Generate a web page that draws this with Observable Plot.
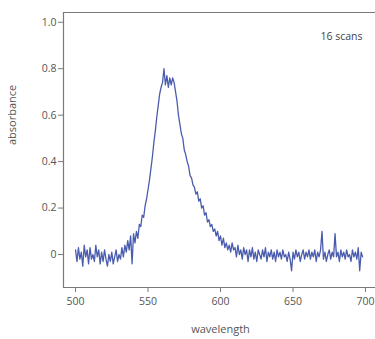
<!DOCTYPE html>
<html>
<head>
<meta charset="utf-8">
<script src="https://cdn.jsdelivr.net/npm/d3@7"></script>
<script src="https://cdn.jsdelivr.net/npm/@observablehq/plot@0.6"></script>
<style>
  html, body { margin: 0; padding: 0; background: #fff; }
  #chart { width: 375px; height: 339px; overflow: hidden; }
</style>
</head>
<body>
<div id="chart"></div>
<script>
const wavelengthStart = 500;
const absorbance = [
  0.02, -0.03, 0.03, -0.02, 0.01, -0.05, 0.04, -0.01, 0.02, -0.04,
  0.03, -0.02, 0.00, -0.03, 0.04, -0.01, 0.02, -0.04, 0.01, -0.03,
  0.02, -0.02, -0.05, 0.00, -0.03, 0.01, -0.04, -0.01, 0.02, -0.03,
  0.00, -0.02, 0.03, -0.01, 0.04, 0.01, 0.06, 0.02, 0.08, -0.04,
  0.09, 0.05, 0.10, 0.07, 0.13, 0.12, 0.17, 0.16, 0.21, 0.24,
  0.28, 0.32, 0.37, 0.42, 0.48, 0.53, 0.59, 0.64, 0.69, 0.72,
  0.74, 0.80, 0.73, 0.77, 0.72, 0.76, 0.73, 0.76, 0.74, 0.70,
  0.66, 0.60, 0.56, 0.52, 0.50, 0.45, 0.43, 0.40, 0.38, 0.34,
  0.33, 0.30, 0.29, 0.26, 0.27, 0.23, 0.24, 0.20, 0.21, 0.17,
  0.18, 0.14, 0.15, 0.12, 0.13, 0.10, 0.11, 0.08, 0.10, 0.06,
  0.08, 0.04, 0.07, 0.03, 0.05, 0.02, 0.04, 0.01, 0.05, 0.02,
  0.03, -0.01, 0.04, 0.00, 0.02, -0.02, 0.03, 0.00, 0.02, -0.03,
  0.02, -0.01, 0.03, -0.02, 0.01, -0.03, 0.02, 0.00, -0.02, 0.02,
  -0.01, 0.03, -0.03, 0.01, -0.01, 0.02, -0.02, 0.01, -0.03, 0.02,
  -0.01, 0.01, -0.02, 0.02, -0.01, 0.00, -0.03, 0.01, -0.02, -0.07,
  0.01, -0.02, 0.02, -0.01, 0.01, -0.03, 0.00, 0.02, -0.02, 0.01,
  -0.01, 0.02, -0.02, 0.01, -0.01, 0.02, -0.03, 0.01, -0.01, 0.02,
  0.10, -0.02, 0.01, -0.03, 0.00, 0.02, -0.02, 0.01, -0.01, 0.09,
  -0.01, 0.01, -0.03, 0.02, -0.01, 0.01, -0.02, 0.02, -0.01, 0.00,
  -0.03, 0.02, -0.01, 0.01, -0.02, 0.03, -0.07, 0.01, -0.01
];
const xTicks = [500, 550, 600, 650, 700];
const yTicks = [0, 0.2, 0.4, 0.6, 0.8, 1.0];
const yTickLabels = ["0", "0.2", "0.4", "0.6", "0.8", "1.0"];
const annotation = "16 scans";
const xLabel = "wavelength";
const yLabel = "absorbance";

const data = absorbance.map((v, i) => ({ wavelength: wavelengthStart + i, absorbance: v }));
const xDomain = [491.7, 706.9];
const yDomain = [-0.142, 1.042];
const axisColor = "#7a7a7a";
const textColor = "#555";

const chart = Plot.plot({
  width: 375,
  height: 339,
  marginLeft: 63,
  marginRight: 0,
  marginTop: 12,
  marginBottom: 52,
  style: { fontFamily: "'Open Sans', sans-serif", fontSize: "10.5px", background: "#fff", color: textColor },
  x: { domain: xDomain, ticks: xTicks, label: null },
  y: { domain: yDomain, ticks: yTicks, label: null },
  marks: [
    Plot.ruleY([yDomain[1]], { stroke: axisColor, strokeWidth: 1.2 }),
    Plot.ruleY([yDomain[0]], { stroke: axisColor, strokeWidth: 1.2 }),
    Plot.ruleX([xDomain[0]], { stroke: axisColor, strokeWidth: 1.2 }),
    Plot.axisX({ ticks: xTicks, tickSize: 5, tickPadding: 5, stroke: axisColor, fill: textColor, label: null, tickFormat: d => String(d) }),
    Plot.axisY({ ticks: yTicks, tickSize: 5, tickPadding: 2, stroke: axisColor, fill: textColor, label: null, tickFormat: (d, i) => yTickLabels[i] }),
    Plot.line(data, { x: "wavelength", y: "absorbance", stroke: "#4a5cad", strokeWidth: 1.3 }),
    Plot.text([annotation], { frameAnchor: "top-right", dx: -13, dy: 20, text: d => d, fill: "#444", fontSize: 10.5, textAnchor: "end" }),
    Plot.text([xLabel], { x: 600, frameAnchor: "bottom", dy: 45, text: d => d, fill: textColor, fontSize: 11 }),
    Plot.text([yLabel], { frameAnchor: "left", dx: -51, dy: -5, rotate: -90, text: d => d, fill: textColor, fontSize: 11 })
  ]
});
document.getElementById("chart").appendChild(chart);
</script>
</body>
</html>
